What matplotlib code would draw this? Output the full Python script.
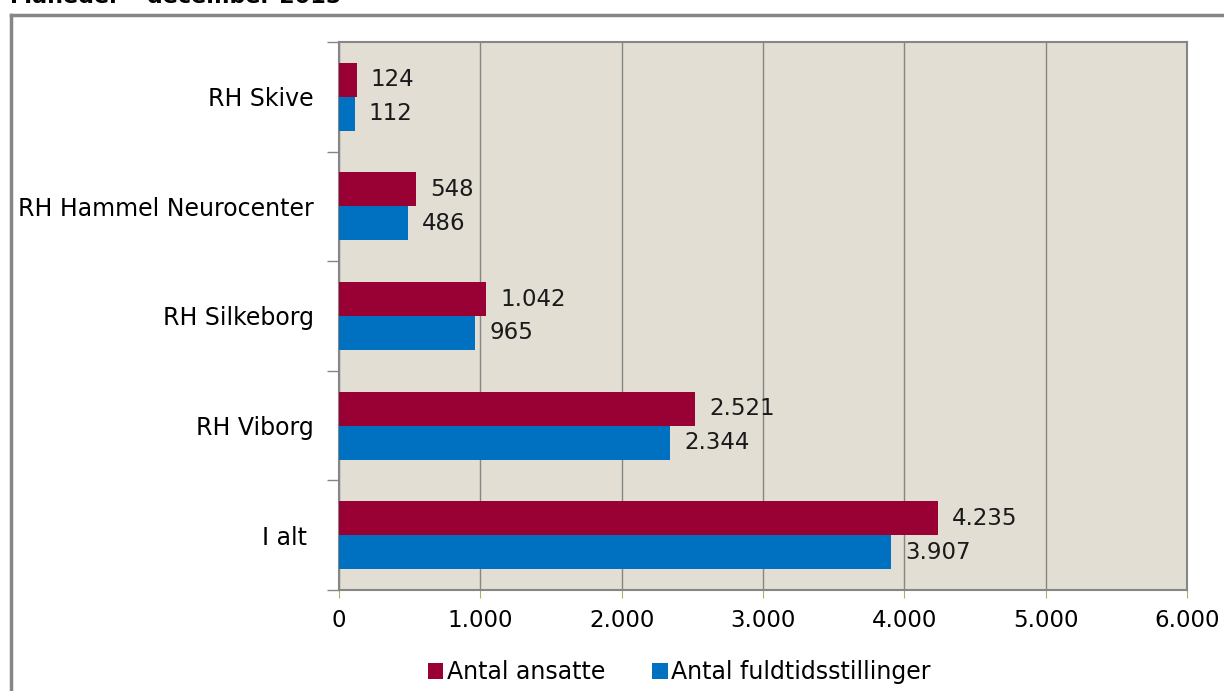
import numpy as np
import matplotlib
matplotlib.use('Agg')
import matplotlib.pyplot as plt
from matplotlib.lines import Line2D

categories = ['RH Skive', 'RH Hammel Neurocenter', 'RH Silkeborg', 'RH Viborg', 'I alt ']
ansatte = [124, 548, 1042, 2521, 4235]
fuldtid = [112, 486, 965, 2344, 3907]
xticks = [0, 1000, 2000, 3000, 4000, 5000, 6000]

red = '#990033'
blue = '#0070C0'
grey = '#868686'


def dk(v):
    # danish thousand separator
    return f'{v:,}'.replace(',', '.')


plt.rcParams['font.family'] = 'DejaVu Sans'
fig = plt.figure(figsize=(12.24, 6.91), dpi=100)
ax = fig.add_axes([0.277, 0.1462, 0.6928, 0.7930])
ax.set_facecolor('#E2DED4')

y = np.arange(len(categories))[::-1]
h = 0.31
b1 = ax.barh(y + h / 2, ansatte, height=h, color=red, label='Antal ansatte', zorder=3)
b2 = ax.barh(y - h / 2, fuldtid, height=h, color=blue, label='Antal fuldtidsstillinger', zorder=3)

for bars, vals in [(b1, ansatte), (b2, fuldtid)]:
    for bar, v in zip(bars, vals):
        ax.annotate(dk(v), (bar.get_width(), bar.get_y() + bar.get_height() / 2),
                    xytext=(10, 0), textcoords='offset points',
                    va='center', ha='left', fontsize=16.5, color='#1a1a1a')

ax.set_xlim(0, 6000)
ax.set_ylim(-0.5, len(categories) - 0.5)
ax.set_xticks(xticks)
ax.set_xticklabels([dk(v) for v in xticks], fontsize=16.5)
ax.set_yticks(y)
ax.set_yticklabels(categories, fontsize=17)
ax.set_yticks(np.arange(len(categories) + 1) - 0.5, minor=True)
ax.tick_params(axis='y', which='major', length=0, pad=18)
ax.tick_params(axis='y', which='minor', length=9, color=grey, width=1)
ax.tick_params(axis='x', length=6, color='#9BBB59', pad=8)

ax.grid(axis='x', color=grey, linewidth=1, zorder=0)
for s in ax.spines.values():
    s.set_color(grey)
    s.set_linewidth(1.5)

fig.legend(handles=[b1, b2], loc='center', bbox_to_anchor=(0.555, 0.027), ncol=2,
           frameon=False, fontsize=17, handlelength=0.65, handleheight=0.65,
           handletextpad=0.15, columnspacing=2.0)

# outer frame of the chart object
fig.add_artist(Line2D([11 / 1224, 11 / 1224], [0, 1 - 15 / 691], transform=fig.transFigure,
                      color=grey, linewidth=2.5))
fig.add_artist(Line2D([11 / 1224, 1], [1 - 15 / 691, 1 - 15 / 691], transform=fig.transFigure,
                      color=grey, linewidth=2.5))

# heading above, mostly cut off in the source
fig.text(10 / 1224, 1 - 3 / 691, 'Måneder – december 2015', fontsize=16, fontweight='bold',
         va='baseline', ha='left')

fig.savefig('out.png', dpi=100)
